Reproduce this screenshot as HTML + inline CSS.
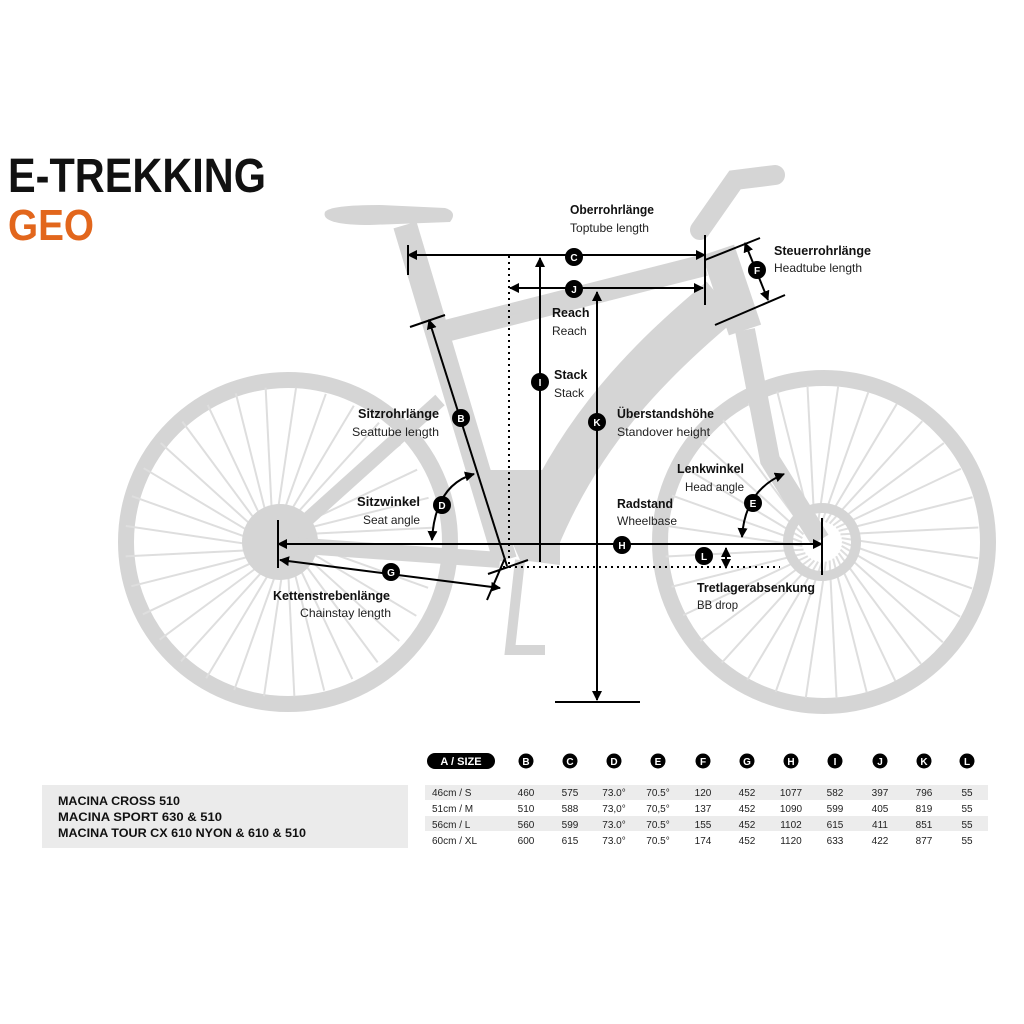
<!DOCTYPE html>
<html><head><meta charset="utf-8"><style>
body{margin:0;background:#fff;width:1024px;height:1024px;overflow:hidden}
svg{display:block}
.b{font-family:"Liberation Sans",sans-serif;font-weight:bold;font-size:12.5px;fill:#111}
.n{font-family:"Liberation Sans",sans-serif;font-size:12px;fill:#222}
.t{font-family:"Liberation Sans",sans-serif;font-size:10px;fill:#222}
.cl{font-family:"Liberation Sans",sans-serif;font-weight:bold;font-size:10px;fill:#fff}
</style></head><body>
<svg width="1024" height="1024" viewBox="0 0 1024 1024" xmlns="http://www.w3.org/2000/svg">
<defs>
<marker id="a" viewBox="0 0 10 10" refX="9" refY="5" markerWidth="5" markerHeight="5" orient="auto-start-reverse"><path d="M0 0L10 5L0 10z" fill="#000"/></marker>
</defs>
<text x="8" y="192" font-family="Liberation Sans,sans-serif" font-weight="bold" font-size="48" fill="#111" textLength="258" lengthAdjust="spacingAndGlyphs">E-TREKKING</text>
<text x="8" y="240" font-family="Liberation Sans,sans-serif" font-weight="bold" font-size="44" fill="#e2661c" textLength="86" lengthAdjust="spacingAndGlyphs">GEO</text>
<g id="bike" fill="none" stroke="#d5d5d5">
<circle cx="288" cy="542" r="162" stroke-width="16"/>
<circle cx="824" cy="542" r="164" stroke-width="16"/>
<g id="sp" stroke-width="2" stroke="#dedede"></g>
<circle cx="280" cy="542" r="38" fill="#d5d5d5" stroke="none"/>
<circle cx="822" cy="542" r="34" stroke-width="10"/>
<path d="M405 225 L505 560" stroke-width="24"/>
<path d="M430 335 L705 265" stroke-width="22"/>
<path d="M722 300 C650 360 580 430 535 540" stroke-width="48"/>
<path d="M440 400 L290 535" stroke-width="14"/>
<path d="M500 560 L290 545" stroke-width="16"/>
<path d="M718 250 L745 330" stroke-width="34"/>
<path d="M745 330 L770 460 L820 540" stroke-width="20"/>
<path d="M700 230 L735 180 L775 175" stroke-width="20" stroke-linecap="round"/>
<path d="M520 560 L510 650 L545 650" stroke-width="10"/>
<path d="M480 470 L520 560 L560 565 L560 470" fill="#d5d5d5" stroke="none"/>
</g>
<path d="M325 212 Q330 205 380 205 L445 208 Q458 212 450 222 L370 225 Q320 225 325 212z" fill="#d5d5d5"/>
<g stroke="#000" stroke-width="2" fill="none">
<path d="M408 245V275M705 235V305M278 520V568M822 518V575M555 702H640"/>
<path d="M408 255H705" marker-start="url(#a)" marker-end="url(#a)"/>
<path d="M510 288H703" marker-start="url(#a)" marker-end="url(#a)"/>
<path d="M540 562V258" marker-end="url(#a)"/>
<path d="M597 700V292" marker-start="url(#a)" marker-end="url(#a)"/>
<path d="M278 544H822" marker-start="url(#a)" marker-end="url(#a)"/>
<path d="M280 560L500 588" marker-start="url(#a)" marker-end="url(#a)"/>
<path d="M487 600L505 558M488 574L528 560"/>
<path d="M507 566L429 320" marker-end="url(#a)"/>
<path d="M410 327L445 315"/>
<path d="M705 260L760 238M715 325L785 295"/>
<path d="M745 243L768 300" marker-start="url(#a)" marker-end="url(#a)"/>
<path d="M432 540Q435 485 474 474" marker-start="url(#a)" marker-end="url(#a)"/>
<path d="M742 537Q745 490 784 474" marker-start="url(#a)" marker-end="url(#a)"/>
<path d="M726 548V568" marker-start="url(#a)" marker-end="url(#a)"/>
<path d="M509 256V568M503 567H780" stroke-dasharray="2 4"/>
</g>
<g>
<circle cx="574" cy="257" r="9"/><text class="cl" x="574" y="261" text-anchor="middle">C</text>
<circle cx="574" cy="289" r="9"/><text class="cl" x="574" y="293" text-anchor="middle">J</text>
<circle cx="540" cy="382" r="9"/><text class="cl" x="540" y="386" text-anchor="middle">I</text>
<circle cx="597" cy="422" r="9"/><text class="cl" x="597" y="426" text-anchor="middle">K</text>
<circle cx="461" cy="418" r="9"/><text class="cl" x="461" y="422" text-anchor="middle">B</text>
<circle cx="442" cy="505" r="9"/><text class="cl" x="442" y="509" text-anchor="middle">D</text>
<circle cx="391" cy="572" r="9"/><text class="cl" x="391" y="576" text-anchor="middle">G</text>
<circle cx="622" cy="545" r="9"/><text class="cl" x="622" y="549" text-anchor="middle">H</text>
<circle cx="704" cy="556" r="9"/><text class="cl" x="704" y="560" text-anchor="middle">L</text>
<circle cx="753" cy="503" r="9"/><text class="cl" x="753" y="507" text-anchor="middle">E</text>
<circle cx="757" cy="270" r="9"/><text class="cl" x="757" y="274" text-anchor="middle">F</text>
</g>
<text class="b" x="570" y="214" textLength="84" lengthAdjust="spacingAndGlyphs">Oberrohrlänge</text><text class="n" x="570" y="232" textLength="79" lengthAdjust="spacingAndGlyphs">Toptube length</text>
<text class="b" x="774" y="255" textLength="97" lengthAdjust="spacingAndGlyphs">Steuerrohrlänge</text><text class="n" x="774" y="272" textLength="88" lengthAdjust="spacingAndGlyphs">Headtube length</text>
<text class="b" x="552" y="317">Reach</text><text class="n" x="552" y="335">Reach</text>
<text class="b" x="554" y="379">Stack</text><text class="n" x="554" y="397">Stack</text>
<text class="b" x="617" y="418" textLength="97" lengthAdjust="spacingAndGlyphs">Überstandshöhe</text><text class="n" x="617" y="436" textLength="93" lengthAdjust="spacingAndGlyphs">Standover height</text>
<text class="b" x="358" y="418" textLength="81" lengthAdjust="spacingAndGlyphs">Sitzrohrlänge</text><text class="n" x="352" y="436" textLength="87" lengthAdjust="spacingAndGlyphs">Seattube length</text>
<text class="b" x="677" y="473" textLength="67" lengthAdjust="spacingAndGlyphs">Lenkwinkel</text><text class="n" x="685" y="491" textLength="59" lengthAdjust="spacingAndGlyphs">Head angle</text>
<text class="b" x="357" y="506" textLength="63" lengthAdjust="spacingAndGlyphs">Sitzwinkel</text><text class="n" x="363" y="524" textLength="57" lengthAdjust="spacingAndGlyphs">Seat angle</text>
<text class="b" x="617" y="508" textLength="56" lengthAdjust="spacingAndGlyphs">Radstand</text><text class="n" x="617" y="525" textLength="60" lengthAdjust="spacingAndGlyphs">Wheelbase</text>
<text class="b" x="273" y="600" textLength="117" lengthAdjust="spacingAndGlyphs">Kettenstrebenlänge</text><text class="n" x="300" y="617" textLength="91" lengthAdjust="spacingAndGlyphs">Chainstay length</text>
<text class="b" x="697" y="592" textLength="118" lengthAdjust="spacingAndGlyphs">Tretlagerabsenkung</text><text class="n" x="697" y="609" textLength="41" lengthAdjust="spacingAndGlyphs">BB drop</text>
<rect x="42" y="785" width="366" height="63" fill="#ebebeb"/>
<g font-family="Liberation Sans,sans-serif" font-weight="bold" font-size="12" fill="#111">
<text x="58" y="805" textLength="122" lengthAdjust="spacingAndGlyphs">MACINA CROSS  510</text><text x="58" y="821" textLength="164" lengthAdjust="spacingAndGlyphs">MACINA SPORT  630 &amp; 510</text><text x="58" y="837" textLength="248" lengthAdjust="spacingAndGlyphs">MACINA TOUR CX 610 NYON &amp; 610 &amp; 510</text></g>
<rect x="425" y="785" width="563" height="15" fill="#ececec"/>
<rect x="425" y="816" width="563" height="15" fill="#ececec"/>
<rect x="427" y="753" width="68" height="16" rx="8"/>
<text x="461" y="765" text-anchor="middle" font-family="Liberation Sans" font-weight="bold" font-size="11" fill="#fff">A / SIZE</text>
<g id="hdr"></g>
<g id="rows" class="t"></g>
</svg>
<script>
var sp=document.getElementById('sp'),ns='http://www.w3.org/2000/svg';
[[280,542,155],[822,542,157]].forEach(function(w){for(var i=0;i<32;i++){var a=i*Math.PI/16,l=document.createElementNS(ns,'line');l.setAttribute('x1',w[0]+Math.cos(a)*20);l.setAttribute('y1',w[1]+Math.sin(a)*20);l.setAttribute('x2',w[0]+Math.cos(a+0.3)*w[2]);l.setAttribute('y2',w[1]+Math.sin(a+0.3)*w[2]);sp.appendChild(l);}});
var cols=[526,570,614,658,703,747,791,835,880,924,967],lab='BCDEFGHIJKL',h=document.getElementById('hdr');
cols.forEach(function(x,i){var c=document.createElementNS(ns,'circle');c.setAttribute('cx',x);c.setAttribute('cy',761);c.setAttribute('r',7.5);h.appendChild(c);var t=document.createElementNS(ns,'text');t.setAttribute('x',x);t.setAttribute('y',765);t.setAttribute('class','cl');t.setAttribute('text-anchor','middle');t.textContent=lab[i];h.appendChild(t);});
var d=[['46cm / S','460','575','73.0°','70.5°','120','452','1077','582','397','796','55'],['51cm / M','510','588','73,0°','70,5°','137','452','1090','599','405','819','55'],['56cm / L','560','599','73.0°','70.5°','155','452','1102','615','411','851','55'],['60cm / XL','600','615','73.0°','70.5°','174','452','1120','633','422','877','55']];
var r=document.getElementById('rows');
d.forEach(function(row,j){var y=796+j*16;row.forEach(function(v,i){var t=document.createElementNS(ns,'text');t.setAttribute('y',y);if(i==0){t.setAttribute('x',432);}else{t.setAttribute('x',cols[i-1]);t.setAttribute('text-anchor','middle');}t.textContent=v;r.appendChild(t);});});
</script>
</body></html>
